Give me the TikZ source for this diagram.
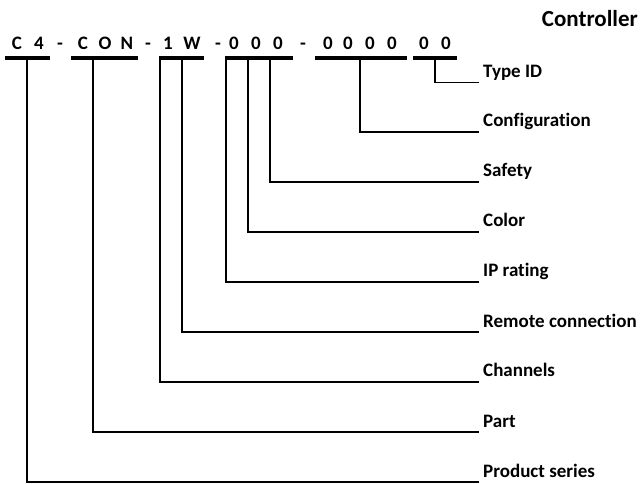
\documentclass[tikz,border=0pt]{standalone}
\usepackage{fontspec}
\setmainfont{Carlito}[Ligatures=NoCommon]
\usetikzlibrary{positioning}
\tikzset{
  code/.style={
    font=\fontsize{19}{21}\selectfont\bfseries,
    inner sep=0pt,
    anchor=base
  },
  field/.style={
    font=\fontsize{19}{21}\selectfont\bfseries,
    inner sep=0pt,
    anchor=base west
  },
  heading/.style={
    font=\fontsize{23}{25}\selectfont\bfseries,
    inner sep=0pt,
    anchor=base east
  },
  bar/.style={line width=4pt},
  lead/.style={line width=1.7pt}
}
\begin{document}
\begin{tikzpicture}[x=1pt,y=-1pt]
  \useasboundingbox (0,0) rectangle (641,484);
  \node[heading] (title) at (638,27) {Controller};
  % letters of the code
  \foreach \x/\c in {17/C,39/4,60/-,83/C,105/O,127/N,148/-,168/1,192/W,218/-,
                     234/0,256/0,278/0,303/-,328/0,348/0,370/0,392/0,424/0,446/0}{
      \node[code] (c\x) at (\x,50) {\c};
  }
  % bars under the groups
  \foreach \n/\a/\b in {1/5/50,2/71/138,3/159/204,4/225/293,5/315/407,6/413/457}{
      \coordinate (bl\n) at (\a,58);
      \coordinate (br\n) at (\b,58);
      \draw[bar] (bl\n) -- (br\n);
  }
  % leads to the field names
  \foreach \n/\x/\y/\t in {1/26.7/482/Product series,2/92.7/432/Part,3/160/382/Channels,
                           4/182/332/Remote connection,5/226/282/IP rating,6/248/232/Color,
                           7/270/182/Safety,8/360/132/Configuration,9/435/82.6/Type ID}{
      \coordinate (top\n) at (\x,58);
      \coordinate (end\n) at (479,\y);
      \draw[lead] (top\n) |- (end\n);
      \node[field] (lab\n) at ([shift={(4,-5)}]end\n) {\t};
  }
\end{tikzpicture}
\end{document}
